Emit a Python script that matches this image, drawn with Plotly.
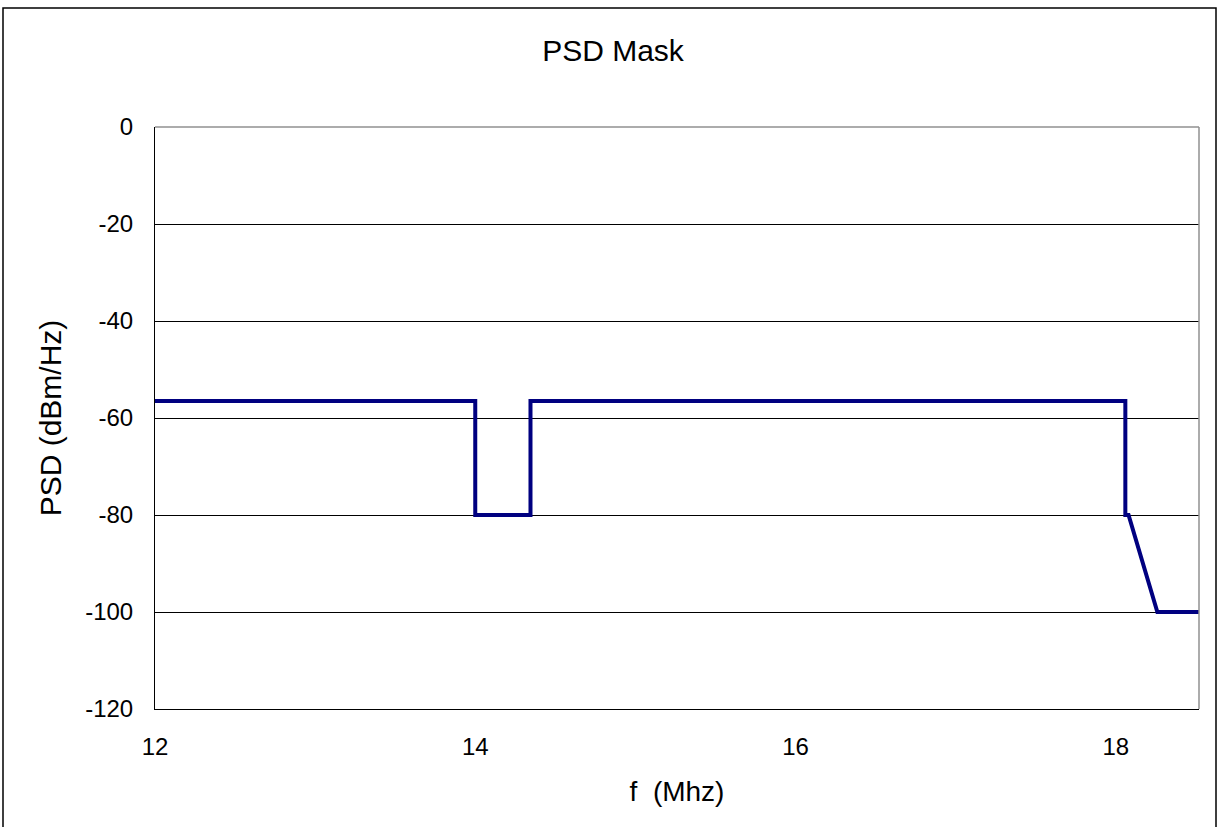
import plotly.graph_objects as go

# Data (MHz, dBm/Hz)
freq_mhz = [12.0, 14.0, 14.0, 14.345, 14.345, 18.06, 18.06, 18.08, 18.26, 18.52]
psd_dbm_hz = [-56.5, -56.5, -80.0, -80.0, -56.5, -56.5, -80.0, -80.0, -100.0, -100.0]
x_ticks = [12, 14, 16, 18]
y_ticks = [0, -20, -40, -60, -80, -100, -120]

W, H = 1219, 827
L, R, T, B = 155, 20, 127, 118
pw, ph = W - L - R, H - T - B

fig = go.Figure()
fig.add_trace(go.Scatter(x=freq_mhz, y=psd_dbm_hz, mode="lines",
                         line=dict(color="#000080", width=4), showlegend=False,
                         cliponaxis=False))

font_family = "Liberation Sans, Arial, sans-serif"
fig.update_layout(
    width=W, height=H,
    margin=dict(l=L, r=R, t=T, b=B),
    paper_bgcolor="white", plot_bgcolor="white",
    font=dict(family=font_family, color="black"),
    title=dict(text="PSD Mask", x=613 / W, xref="container", xanchor="center",
               y=1 - 50 / H, yref="container", yanchor="middle",
               font=dict(size=30, family=font_family, color="black")),
)
fig.update_xaxes(range=[12, 18.52], tickvals=x_ticks, ticktext=[str(v) for v in x_ticks],
                 showgrid=False, zeroline=False, showline=True, linecolor="black", linewidth=1,
                 ticks="", tickfont=dict(size=24), ticklabelstandoff=16,
                 title=dict(text="f &nbsp;(Mhz)", font=dict(size=28), standoff=22),
                 mirror=False)
fig.update_yaxes(range=[-120, 0], tickvals=y_ticks, ticktext=[str(v) for v in y_ticks],
                 showgrid=True, gridcolor="black", gridwidth=1, zeroline=False,
                 showline=True, linecolor="black", linewidth=1,
                 ticks="inside", ticklen=8, tickcolor="black",
                 tickfont=dict(size=24), ticklabelstandoff=16,
                 title=dict(text="PSD (dBm/Hz)", font=dict(size=30), standoff=14))

# plot area top/right border (gray)
fig.add_shape(type="line", xref="paper", yref="paper", x0=0, x1=1, y0=1, y1=1,
              line=dict(color="#909090", width=1.5))
fig.add_shape(type="line", xref="paper", yref="paper", x0=1, x1=1, y0=0, y1=1,
              line=dict(color="#909090", width=1.5))
# outer chart border (page coords converted to paper coords)
fig.add_shape(type="rect", xref="paper", yref="paper",
              x0=(3 - L) / pw, x1=(1216 - L) / pw,
              y0=-(850 - (H - B)) / ph, y1=1 + (T - 8) / ph,
              line=dict(color="black", width=1.5), layer="below")

fig.write_html("out.html", config={"displayModeBar": False},
               post_script="document.body.style.margin='0';")
